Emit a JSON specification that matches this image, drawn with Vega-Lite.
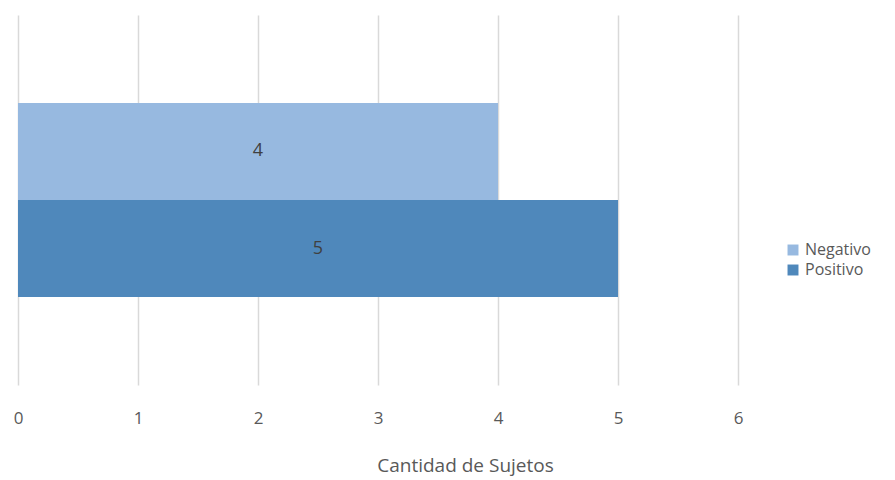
{
  "$schema": "https://vega.github.io/schema/vega-lite/v6.json",
  "width": 720,
  "height": 370,
  "autosize": {"type": "none"},
  "padding": {"left": 18, "top": 15, "right": 157, "bottom": 95},
  "background": "white",
  "config": {
    "view": {"stroke": null},
    "font": "Open Sans"
  },
  "data": {
    "values": [
      {"serie": "Negativo", "cantidad": 4},
      {"serie": "Positivo", "cantidad": 5}
    ]
  },
  "encoding": {
    "y": {
      "field": "serie",
      "type": "nominal",
      "sort": ["Negativo", "Positivo"],
      "scale": {"paddingInner": 0, "paddingOuter": 0.907},
      "axis": null
    }
  },
  "layer": [
    {
      "mark": {"type": "bar"},
      "encoding": {
        "x": {
          "field": "cantidad",
          "type": "quantitative",
          "scale": {"domain": [0, 6], "nice": false},
          "axis": {
            "values": [0, 1, 2, 3, 4, 5, 6],
            "format": "d",
            "title": "Cantidad de Sujetos",
            "domain": false,
            "ticks": false,
            "grid": true,
            "gridColor": "#d9d9d9",
            "gridWidth": 1.5,
            "labelFontSize": 17,
            "labelColor": "#595959",
            "labelPadding": 25,
            "labelFlush": false,
            "labelAlign": "center",
            "titleFontSize": 19,
            "titleFontWeight": "normal",
            "titleColor": "#595959",
            "titlePadding": 30,
            "titleX": 447,
            "titleAnchor": "middle"
          }
        },
        "color": {
          "field": "serie",
          "type": "nominal",
          "scale": {"domain": ["Negativo", "Positivo"], "range": ["#97B9E0", "#4F88BB"]},
          "legend": {
            "title": null,
            "orient": "none",
            "legendX": 767,
            "legendY": 227,
            "symbolType": "square",
            "symbolSize": 120,
            "symbolStrokeWidth": 0,
            "labelFontSize": 16,
            "labelColor": "#595959",
            "rowPadding": 4,
            "labelOffset": 4
          }
        }
      }
    },
    {
      "mark": {"type": "text", "fontSize": 18, "color": "#404040"},
      "transform": [{"calculate": "datum.cantidad / 2", "as": "mitad"}],
      "encoding": {
        "x": {"field": "mitad", "type": "quantitative"},
        "text": {"field": "cantidad", "type": "quantitative"}
      }
    }
  ]
}
